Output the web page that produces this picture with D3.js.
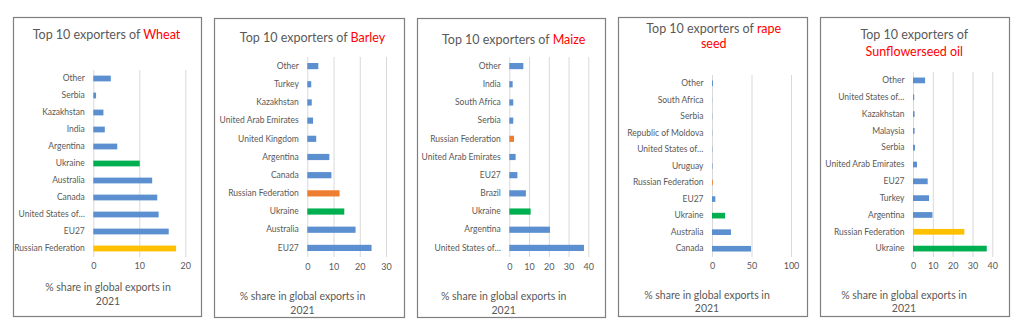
<!DOCTYPE html>
<html>
<head>
<meta charset="utf-8">
<script src="https://cdn.jsdelivr.net/npm/d3@7"></script>
<style>
  html, body { margin: 0; padding: 0; background: #fff; }
  svg { display: block; }
  text { font-family: Lato, "Open Sans", sans-serif; }
</style>
</head>
<body>
<svg id="chart" width="1024" height="328"></svg>
<script>
// ---------- DATA (categories listed top to bottom) ----------
const wheatCategories = ["Other", "Serbia", "Kazakhstan", "India", "Argentina", "Ukraine", "Australia", "Canada", "United States of…", "EU27", "Russian Federation"];
const wheatValues     = [3.8, 0.6, 2.2, 2.5, 5.2, 10.1, 12.8, 13.9, 14.2, 16.4, 18.0];
const wheatTicks      = [0, 10, 20];

const barleyCategories = ["Other", "Turkey", "Kazakhstan", "United Arab Emirates", "United Kingdom", "Argentina", "Canada", "Russian Federation", "Ukraine", "Australia", "EU27"];
const barleyValues     = [4.2, 1.5, 1.7, 2.2, 3.4, 8.4, 9.2, 12.3, 14.1, 18.4, 24.5];
const barleyTicks      = [0, 10, 20, 30];

const maizeCategories = ["Other", "India", "South Africa", "Serbia", "Russian Federation", "United Arab Emirates", "EU27", "Brazil", "Ukraine", "Argentina", "United States of…"];
const maizeValues     = [7.1, 1.7, 2.0, 2.0, 2.4, 3.2, 4.1, 8.4, 10.8, 20.6, 37.8];
const maizeTicks      = [0, 10, 20, 30, 40];

const rapeCategories = ["Other", "South Africa", "Serbia", "Republic of Moldova", "United States of…", "Uruguay", "Russian Federation", "EU27", "Ukraine", "Australia", "Canada"];
const rapeValues     = [1.2, 0.2, 0.3, 0.3, 0.4, 0.6, 1.0, 4.2, 16.5, 24.0, 49.4];
const rapeTicks      = [0, 50, 100];

const sunCategories = ["Other", "United States of…", "Kazakhstan", "Malaysia", "Serbia", "United Arab Emirates", "EU27", "Turkey", "Argentina", "Russian Federation", "Ukraine"];
const sunValues     = [6.1, 0.6, 0.8, 0.8, 1.0, 2.0, 7.4, 8.1, 9.8, 25.9, 37.2];
const sunTicks      = [0, 10, 20, 30, 40];

const axisTitleLines = ["% share in global exports in", "2021"];

// ---------- STYLE ----------
const BLUE = "#5b8fcf", GREEN = "#00b050", GOLD = "#ffc000", ORANGE = "#ed7d31";
const TEXT = "#595959", RED = "#ff0000", GRID = "#d9d9d9", BORDER = "#7f7f7f";

// ---------- LAYOUT per panel ----------
const panels = [
  { cats: wheatCategories, vals: wheatValues, ticks: wheatTicks,
    box: [13, 17, 201, 316],
    title: [[{t: "Top 10 exporters of ", c: TEXT}, {t: "Wheat", c: RED}]], titleY: [34], titleX: 106.5,
    x0: 93.3, x1: 185.3, yTop: 70, yBot: 257, tickY: 267, axisY: [287, 301], axisX: 108,
    highlight: {"Ukraine": GREEN, "Russian Federation": GOLD} },
  { cats: barleyCategories, vals: barleyValues, ticks: barleyTicks,
    box: [214, 18, 404, 317],
    title: [[{t: "Top 10 exporters of ", c: TEXT}, {t: "Barley", c: RED}]], titleY: [37], titleX: 312.5,
    x0: 307.3, x1: 386, yTop: 57, yBot: 257, tickY: 268, axisY: [296, 310], axisX: 302.5,
    highlight: {"Ukraine": GREEN, "Russian Federation": ORANGE} },
  { cats: maizeCategories, vals: maizeValues, ticks: maizeTicks,
    box: [417, 18, 605, 317],
    title: [[{t: "Top 10 exporters of ", c: TEXT}, {t: "Maize", c: RED}]], titleY: [39], titleX: 513.7,
    x0: 509.3, x1: 588.3, yTop: 57, yBot: 257, tickY: 268, axisY: [296, 310], axisX: 503.7,
    highlight: {"Ukraine": GREEN, "Russian Federation": ORANGE} },
  { cats: rapeCategories, vals: rapeValues, ticks: rapeTicks,
    box: [618, 17, 807, 316],
    title: [[{t: "Top 10 exporters of ", c: TEXT}, {t: "rape", c: RED}], [{t: "seed", c: RED}]], titleY: [28, 43], titleX: 713.7,
    x0: 712, x1: 791, yTop: 75, yBot: 257, tickY: 267, axisY: [295, 308], axisX: 707,
    highlight: {"Ukraine": GREEN, "Russian Federation": ORANGE} },
  { cats: sunCategories, vals: sunValues, ticks: sunTicks,
    box: [820, 17, 1009, 316],
    title: [[{t: "Top 10 exporters of", c: TEXT}], [{t: "Sunflowerseed oil", c: RED}]], titleY: [34, 51], titleX: 914.3,
    x0: 913, x1: 992.3, yTop: 72, yBot: 257, tickY: 267, axisY: [295, 308], axisX: 904,
    highlight: {"Ukraine": GREEN, "Russian Federation": GOLD} }
];

const svg = d3.select("#chart");

panels.forEach(p => {
  const g = svg.append("g");
  const [bx0, by0, bx1, by1] = p.box;
  g.append("rect").attr("x", bx0 + 0.5).attr("y", by0 + 0.5)
    .attr("width", bx1 - bx0).attr("height", by1 - by0)
    .attr("fill", "#fff").attr("stroke", BORDER).attr("stroke-width", 1.2);

  // title
  p.title.forEach((line, i) => {
    const t = g.append("text").attr("x", p.titleX).attr("y", p.titleY[i])
      .attr("text-anchor", "middle").attr("dominant-baseline", "central")
      .attr("font-size", 12.5);
    line.forEach(s => t.append("tspan").text(s.t).attr("fill", s.c));
  });

  const x = d3.scaleLinear().domain([0, d3.max(p.ticks)]).range([p.x0, p.x1]);
  const y = d3.scaleBand().domain(p.cats).range([p.yTop, p.yBot]).paddingInner(0.66).paddingOuter(0.33);

  // gridlines
  const grid = g.append("g").attr("transform", `translate(0,${p.yBot})`)
    .call(d3.axisBottom(x).tickValues(p.ticks).tickSize(-(p.yBot - p.yTop)).tickFormat(""));
  grid.select(".domain").remove();
  grid.selectAll("line").attr("stroke", GRID).attr("stroke-width", 1);

  // bars
  g.append("g").selectAll("rect").data(p.cats.map((c, i) => ({c, v: p.vals[i]})))
    .join("rect")
    .attr("x", x(0)).attr("y", d => y(d.c))
    .attr("width", d => x(d.v) - x(0)).attr("height", y.bandwidth())
    .attr("fill", d => p.highlight[d.c] || BLUE);

  // x tick labels
  const xa = g.append("g").attr("transform", `translate(0,${p.tickY - 4})`)
    .call(d3.axisBottom(x).tickValues(p.ticks).tickSize(0).tickPadding(0));
  xa.select(".domain").remove();
  xa.selectAll("text").attr("fill", TEXT).attr("font-size", 9)
    .attr("font-family", "Lato, sans-serif").attr("dy", "0.71em");

  // category labels
  const ya = g.append("g").attr("transform", `translate(${p.x0 - 8.5},0)`)
    .call(d3.axisLeft(y).tickSize(0).tickPadding(0));
  ya.select(".domain").remove();
  ya.selectAll("text").attr("fill", TEXT).attr("font-size", 8.5)
    .attr("font-family", "Lato, sans-serif");

  // axis title
  axisTitleLines.forEach((l, i) => {
    g.append("text").attr("x", p.axisX).attr("y", p.axisY[i])
      .attr("text-anchor", "middle").attr("dominant-baseline", "central")
      .attr("font-size", 10.5).attr("fill", TEXT).text(l);
  });
});
</script>
</body>
</html>
